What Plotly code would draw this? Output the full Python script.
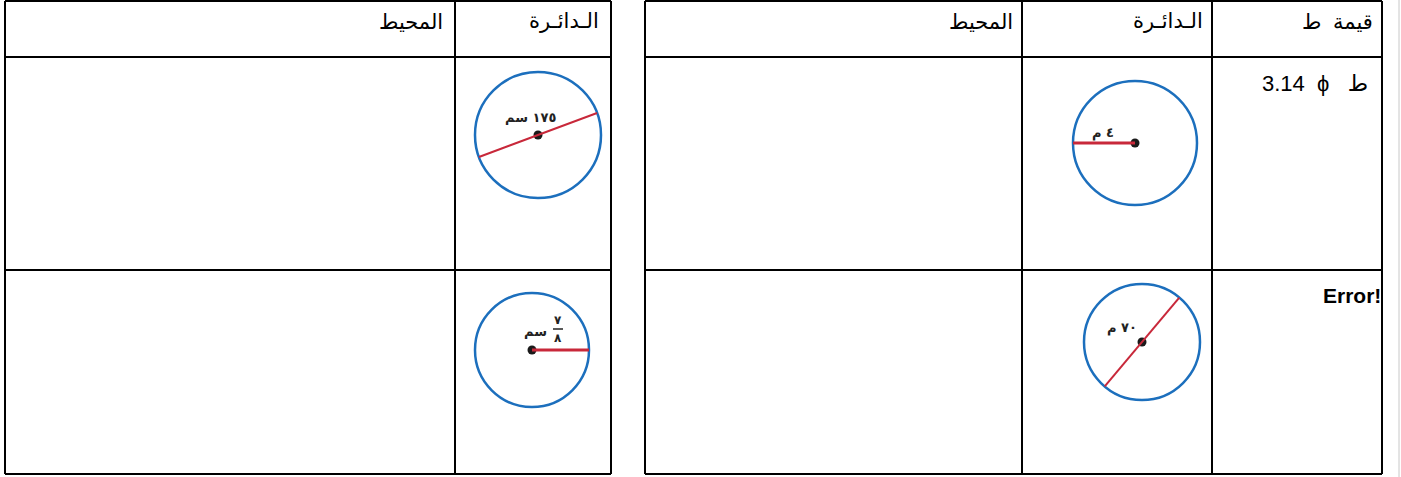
import math
import plotly.graph_objects as go

# -----------------------------
# Table texts
# -----------------------------
left_headers = ["المحيط", "الـدائـرة"]
right_headers = ["المحيط", "الـدائـرة", "قيمة  ط"]
pi_value = "3.14  ϕ   ط"
error_text = "Error!"

# circle labels and what the red segment shows
circle_labels = ["١٧٥ سم", "سم", "٤ م", "٧٠ م"]
circle_kinds = ["diameter", "radius", "radius", "diameter"]
fraction_num = "٧"
fraction_den = "٨"

# -----------------------------
# Layout (pixels, y downwards)
# -----------------------------
W, H = 1401, 477
left_cols = [5, 455, 611]
right_cols = [645, 1022, 1212, 1382]
rows = [1, 57, 270, 474]

centers = [(538, 135), (532, 350), (1135, 143), (1142, 342)]
radii = [63, 57, 62, 58]
angles = [20.4, 0, 180, 50]
label_pos = [(530, 117), (535, 331), (1103, 133), (1122, 328)]

BLUE = "#1c6fbd"
RED = "#c8283a"

fig = go.Figure()
shapes = []
annotations = []

# table grid
for cols in (left_cols, right_cols):
    for x in cols:
        shapes.append(dict(type="line", x0=x, x1=x, y0=rows[0], y1=rows[-1],
                           line=dict(color="black", width=2)))
    for y in rows:
        shapes.append(dict(type="line", x0=cols[0], x1=cols[-1], y0=y, y1=y,
                           line=dict(color="black", width=2)))
# faint page edge
shapes.append(dict(type="line", x0=1399, x1=1399, y0=0, y1=H,
                   line=dict(color="#c8c8c8", width=1)))

# headers, right aligned in each cell
hdr_font = dict(family="Arial, DejaVu Sans", size=21, color="black")
for txt, x in zip(left_headers, left_cols[1:]):
    annotations.append(dict(x=x - 10, y=21, text=txt, xanchor="right", yanchor="middle",
                            showarrow=False, font=hdr_font))
for txt, x in zip(right_headers, right_cols[1:]):
    annotations.append(dict(x=x - 7, y=21, text=txt, xanchor="right", yanchor="middle",
                            showarrow=False, font=hdr_font))
annotations.append(dict(x=right_cols[-1] - 12, y=83, text=pi_value, xanchor="right",
                        yanchor="middle", showarrow=False,
                        font=dict(family="Arial, DejaVu Sans", size=22, color="black")))
annotations.append(dict(x=right_cols[-1] + 1, y=295, text="<b>" + error_text + "</b>",
                        xanchor="right", yanchor="middle", showarrow=False,
                        font=dict(family="Arial", size=21, color="black")))

# circles with red segments
for (cx, cy), r, ang, kind in zip(centers, radii, angles, circle_kinds):
    shapes.append(dict(type="circle", x0=cx - r, x1=cx + r, y0=cy - r, y1=cy + r,
                       line=dict(color=BLUE, width=2.5)))
    dx = r * math.cos(math.radians(ang))
    dy = -r * math.sin(math.radians(ang))
    if kind == "diameter":
        x0, y0, w = cx - dx, cy - dy, 2
    else:
        x0, y0, w = cx, cy, 3
    shapes.append(dict(type="line", x0=x0, y0=y0, x1=cx + dx, y1=cy + dy,
                       line=dict(color=RED, width=w)))

fig.add_trace(go.Scatter(x=[c[0] for c in centers], y=[c[1] for c in centers],
                         mode="markers", marker=dict(color="#1a1a1a", size=9),
                         hoverinfo="skip", showlegend=False))

lbl_font = dict(family="DejaVu Sans", size=13, color="#222222")
for txt, (lx, ly) in zip(circle_labels, label_pos):
    annotations.append(dict(x=lx, y=ly, text="<b>" + txt + "</b>", showarrow=False,
                            xanchor="center", yanchor="middle", font=lbl_font))
# fraction 7/8 beside the second label
annotations.append(dict(x=558, y=320, text="<b>" + fraction_num + "</b>", showarrow=False,
                        font=dict(family="DejaVu Sans", size=12, color="#222222")))
annotations.append(dict(x=558, y=338, text="<b>" + fraction_den + "</b>", showarrow=False,
                        font=dict(family="DejaVu Sans", size=12, color="#222222")))
shapes.append(dict(type="line", x0=553, x1=563, y0=329, y1=329,
                   line=dict(color="#222222", width=1.5)))

fig.update_layout(
    width=W, height=H,
    margin=dict(l=0, r=0, t=0, b=0),
    paper_bgcolor="white", plot_bgcolor="white",
    xaxis=dict(range=[0, W], visible=False, fixedrange=True),
    yaxis=dict(range=[H, 0], visible=False, fixedrange=True),
    shapes=shapes, annotations=annotations,
)

fig.write_html("out.html", config={"displayModeBar": False},
               post_script="document.body.style.margin='0';")
